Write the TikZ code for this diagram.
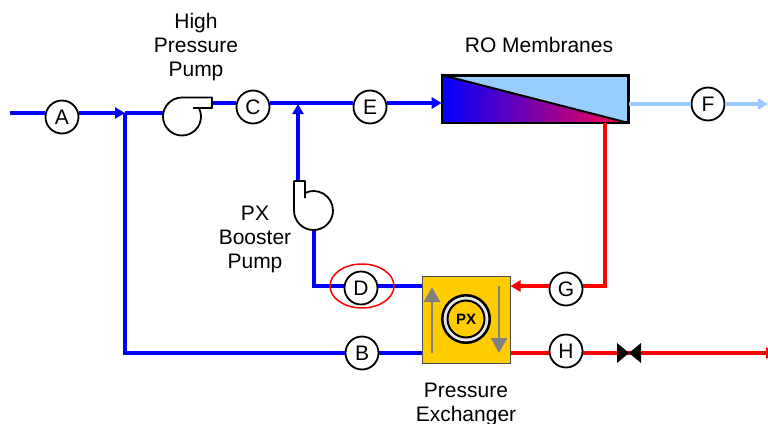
\documentclass[tikz,border=0pt]{standalone}
\usepackage{fontspec}
\setmainfont{Liberation Sans}
\usetikzlibrary{arrows.meta,positioning,shapes.geometric}
\definecolor{pipeblue}{rgb}{0,0,1}
\definecolor{pipered}{rgb}{1,0,0}
\definecolor{pipelight}{rgb}{0.6,0.8,1}
\definecolor{pxyellow}{rgb}{1,0.8,0}
\definecolor{pxgray}{rgb}{0.5,0.5,0.5}
\definecolor{fademid}{rgb}{0.65,0,0.7}
\definecolor{fadeend}{rgb}{1,0,0.3}
\tikzset{
  tag/.style={circle, draw=black, fill=white, line width=1.8pt, minimum size=33pt, inner sep=0pt, font=\fontsize{21}{24}\selectfont},
  pipe/.style={line width=4pt, #1, -{Triangle[length=10pt,width=11pt]}},
  plain pipe/.style={line width=4pt, #1},
  pump/.style={draw=black, fill=white, line width=1.8pt, line join=round},
  caption/.style={align=center, font=\fontsize{21}{24}\selectfont},
  flow/.style={line width=2.5pt, pxgray, -{Triangle[length=15pt,width=16pt]}},
}
\begin{document}
\begin{tikzpicture}[x=1pt,y=-1pt]
  \useasboundingbox (0,0) rectangle (768,423);

  % tags
  \node [tag] (a) at (62,117) {A};
  \node [tag] (b) at (362,353) {B};
  \node [tag] (c) at (253,107) {C};
  \node [tag] (d) at (361,288) {D};
  \node [tag] (e) at (370,107) {E};
  \node [tag] (f) at (708,104) {F};
  \node [tag] (g) at (566,289) {G};
  \node [tag] (h) at (566,351) {H};

  % equipment
  \node [draw=black, line width=2pt, fill=pipelight, minimum width=185pt, minimum height=46pt, inner sep=0pt] (ro) at (535.2,99) {};
  \node [draw=black!70, line width=1pt, fill=pxyellow, minimum width=88pt, minimum height=87pt, inner sep=0pt] (px) at (466,319.5) {};
  \node [circle, draw=black, line width=2.5pt, fill=black!10, minimum size=47.5pt, inner sep=0pt] (ring) at (466,319) {};
  \node [circle, draw=black, line width=2pt, fill=pxyellow, minimum size=37pt, inner sep=0pt, font=\bfseries\fontsize{15}{17}\selectfont] (pxtext) at (466,319) {PX};

  % free ends and bends
  \coordinate (inlet) at (10,113);
  \coordinate (split) at (125,113);
  \coordinate (low) at (125,353);
  \coordinate (hpin) at (164,113);
  \coordinate (hpout) at (212,103);
  \coordinate (join) at (298,104);
  \coordinate (boostout) at (298,182);
  \coordinate (boostin) at (314,228);
  \coordinate (boostlow) at (314,286);
  \coordinate (brine) at (605,123);
  \coordinate (brinelow) at (605,286);
  \coordinate (drain) at (776,353);
  \coordinate (product) at (768,104);
  \coordinate (valve) at (629,353);

  % membrane split
  \fill [left color=pipeblue, middle color=fademid, right color=fadeend] (ro.north west) -- (ro.south east) -- (ro.south west) -- cycle;
  \draw [line width=2pt] (ro.north west) -- (ro.south east);
  \draw [line width=2pt] (ro.north west) rectangle (ro.south east);

  % pipes
  \draw [plain pipe=pipeblue] (inlet) -- (a.west |- inlet);
  \draw [pipe=pipeblue] (a.east |- inlet) -- (split);
  \draw [plain pipe=pipeblue] (split) -- (hpin);
  \draw [plain pipe=pipeblue] (split) -- (low) -- (b.west |- low);
  \draw [plain pipe=pipeblue] (b.east |- low) -- (px.west |- low);
  \draw [plain pipe=pipeblue] (hpout) -- (c.west |- hpout);
  \draw [plain pipe=pipeblue] (c.east |- hpout) -- (e.west |- hpout);
  \draw [pipe=pipeblue] (e.east |- hpout) -- (ro.west |- hpout);
  \draw [pipe=pipeblue] (boostout) -- (join);
  \draw [plain pipe=pipeblue] (boostin) -- (boostlow) -- (d.west |- boostlow);
  \draw [plain pipe=pipeblue] (d.east |- boostlow) -- (px.west |- boostlow);
  \draw [plain pipe=pipelight] (ro.east |- product) -- (f.west |- product);
  \draw [pipe=pipelight] (f.east |- product) -- (product);
  \draw [plain pipe=pipered] (brine) -- (brinelow) -- (g.east |- brinelow);
  \draw [pipe=pipered] (g.west |- brinelow) -- (px.east |- brinelow);
  \draw [plain pipe=pipered] (px.east |- drain) -- (h.west |- drain);
  \draw [pipe=pipered] (h.east |- drain) -- (drain);

  % pumps
  \draw [pump] (193,108) -- (212,108) -- (212,97.5) -- (182,97.5)
    arc [start angle=90, end angle=387, radius=19pt];
  \node [circle, minimum size=38pt, inner sep=0pt] (hp) at (182,116.5) {};
  \draw [pump] (305,198) -- (305,181) -- (294,181) -- (294,210.5)
    arc [start angle=180, end angle=475, radius=19.5pt];
  \node [circle, minimum size=39pt, inner sep=0pt] (boost) at (313.5,210.5) {};

  % valve
  \fill (valve) ++(-12,-10) -- ++(24,20) -- ++(0,-20) -- ++(-24,20) -- cycle;

  % exchanger flows
  \draw [flow] (432,353) -- (432,287);
  \draw [flow] (499,286) -- (499,353);

  % highlight
  \node [draw=pipered, line width=1.5pt, ellipse, minimum width=64pt, minimum height=44pt, inner sep=0pt] (mark) at (362,286) {};

  % captions
  \node [caption] (hplabel) at (196,47) {High\\Pressure\\Pump};
  \node [caption] (rolabel) at (539,45) {RO Membranes};
  \node [caption] (boostlabel) at (255,239) {PX\\Booster\\Pump};
  \node [caption] (pxlabel) at (466,404) {Pressure\\Exchanger};
\end{tikzpicture}
\end{document}
